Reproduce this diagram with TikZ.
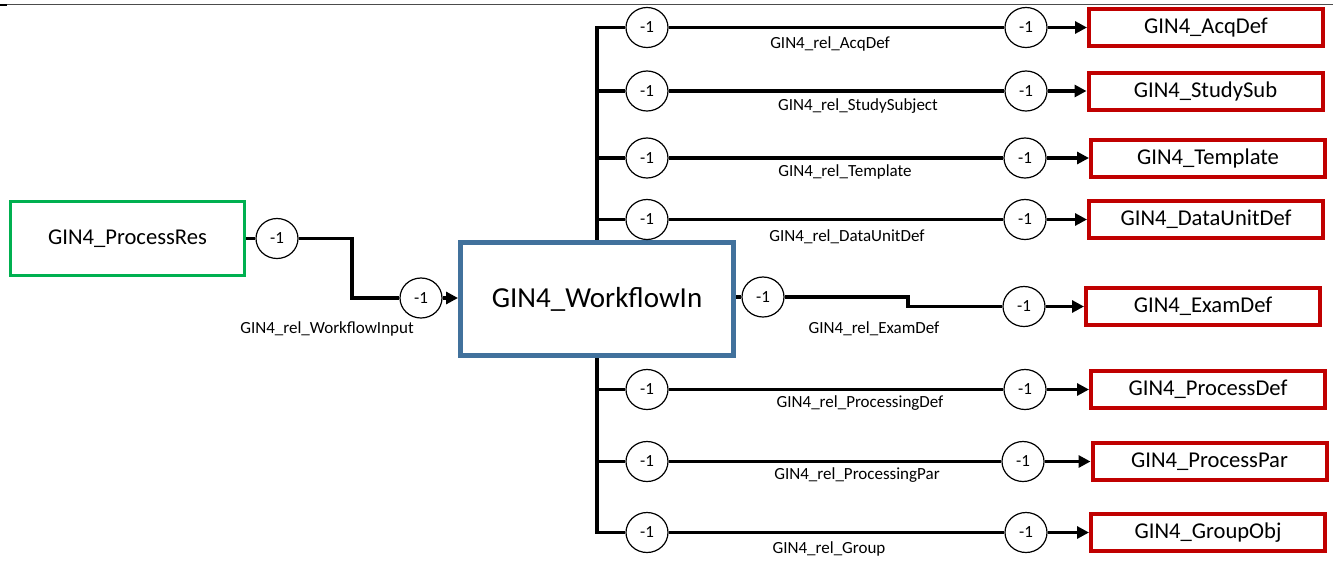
\documentclass[tikz,border=0pt]{standalone}
\usepackage{fontspec}
\setmainfont{Carlito}
\usetikzlibrary{arrows.meta,shapes.geometric}
\definecolor{gbox}{HTML}{00B050}
\definecolor{bbox}{HTML}{41719C}
\definecolor{rbox}{HTML}{C00000}
\begin{document}
\begin{tikzpicture}[x=1pt,y=-1pt,
  card/.style={ellipse,draw=black,line width=1.2pt,minimum width=42pt,minimum height=40pt,inner sep=0pt,fill=white,font=\fontsize{17}{17}\selectfont},
  cls/.style={draw=rbox,line width=4pt,minimum width=234pt,minimum height=37pt,inner sep=0pt,font=\fontsize{22.6}{24}\selectfont},
  conn/.style={line width=3.6pt},
  arr/.style={line width=3.6pt,-{Triangle[length=12pt,width=12pt]}},
  rel/.style={inner sep=0pt,font=\fontsize{17}{18}\selectfont}
]
\useasboundingbox (0,0) rectangle (1333,560);
% top rule
\draw[gray!60!black,line width=1pt] (0,4.5) -- (1333,4.5);
\draw[black,line width=2pt] (0,5) -- (7,5);

% main boxes
\node[draw=gbox,line width=3pt,minimum width=234pt,minimum height=74pt,inner sep=0pt,font=\fontsize{22.6}{24}\selectfont] (pr) at (127.5,238.5) {GIN4\_ProcessRes};
\node[draw=bbox,line width=5pt,minimum width=273pt,minimum height=113pt,inner sep=0pt,font=\fontsize{29}{30}\selectfont] (wf) at (597,299) {GIN4\_WorkflowIn};

% workflow input
\node[card] (wiA) at (277,238.5) {-1};
\node[card] (wiB) at (421,298) {-1};
\coordinate (wiK) at (352,238.5);
\draw[conn] (pr.east) -- (wiA.west);
\draw[conn] (wiA.east) -- (wiK) |- (wiB.west);
\draw[arr] (wiB.east) -- (wiB.east -| wf.west);
\node[rel] (lwi) at (327,329) {GIN4\_rel\_WorkflowInput};

% target boxes
\node[cls] (acq) at (1206,27.5) {GIN4\_AcqDef};
\node[cls] (stu) at (1205.5,91) {GIN4\_StudySub};
\node[cls] (tpl) at (1208,158) {GIN4\_Template};
\node[cls] (dud) at (1206,219.5) {GIN4\_DataUnitDef};
\node[cls] (exd) at (1203,306.5) {GIN4\_ExamDef};
\node[cls] (prd) at (1208,389.5) {GIN4\_ProcessDef};
\node[cls] (prp) at (1209.5,461.5) {GIN4\_ProcessPar};
\node[cls] (grp) at (1208,532.5) {GIN4\_GroupObj};

% left cardinalities
\node[card] (acqL) at (647,27.5) {-1};
\node[card] (stuL) at (647,91) {-1};
\node[card] (tplL) at (647,158) {-1};
\node[card] (dudL) at (647,219.5) {-1};
\node[card] (prdL) at (647,389.5) {-1};
\node[card] (prpL) at (647,461.5) {-1};
\node[card] (grpL) at (647,532.5) {-1};
\node[card] (exdL) at (763,297) {-1};

% right cardinalities
\node[card] (acqR) at (1026,27.5) {-1};
\node[card] (stuR) at (1026,91) {-1};
\node[card] (tplR) at (1025,158) {-1};
\node[card] (dudR) at (1025,219.5) {-1};
\node[card] (exdR) at (1024,306.5) {-1};
\node[card] (prdR) at (1025,389.5) {-1};
\node[card] (prpR) at (1023,461.5) {-1};
\node[card] (grpR) at (1026,532.5) {-1};

% bus
\draw[conn] (acqL.west) -| (wf.north);
\draw[conn] (grpL.west) -| (wf.south);
\draw[conn] (stuL.west -| wf) -- (stuL.west);
\draw[conn] (tplL.west -| wf) -- (tplL.west);
\draw[conn] (dudL.west -| wf) -- (dudL.west);
\draw[conn] (prdL.west -| wf) -- (prdL.west);
\draw[conn] (prpL.west -| wf) -- (prpL.west);

% rows
\draw[conn] (acqL.east) -- (acqR.west); \draw[arr] (acqR.east) -- (acq.west);
\draw[conn] (stuL.east) -- (stuR.west); \draw[arr] (stuR.east) -- (stu.west);
\draw[conn] (tplL.east) -- (tplR.west); \draw[arr] (tplR.east) -- (tpl.west);
\draw[conn] (dudL.east) -- (dudR.west); \draw[arr] (dudR.east) -- (dud.west);
\draw[conn] (prdL.east) -- (prdR.west); \draw[arr] (prdR.east) -- (prd.west);
\draw[conn] (prpL.east) -- (prpR.west); \draw[arr] (prpR.east) -- (prp.west);
\draw[conn] (grpL.east) -- (grpR.west); \draw[arr] (grpR.east) -- (grp.west);

% exam def
\coordinate (exK) at (908,297);
\draw[conn] (exdL.west -| wf.east) -- (exdL.west);
\draw[conn] (exdL.east) -- (exK) |- (exdR.west);
\draw[arr] (exdR.east) -- (exd.west);

% relation labels
\node[rel] (l1) at (830,44) {GIN4\_rel\_AcqDef};
\node[rel] (l2) at (858,106) {GIN4\_rel\_StudySubject};
\node[rel] (l3) at (845,172) {GIN4\_rel\_Template};
\node[rel] (l4) at (847,237) {GIN4\_rel\_DataUnitDef};
\node[rel] (l5) at (874,329) {GIN4\_rel\_ExamDef};
\node[rel] (l6) at (860,403) {GIN4\_rel\_ProcessingDef};
\node[rel] (l7) at (857,475) {GIN4\_rel\_ProcessingPar};
\node[rel] (l8) at (829,549) {GIN4\_rel\_Group};
\end{tikzpicture}
\end{document}
